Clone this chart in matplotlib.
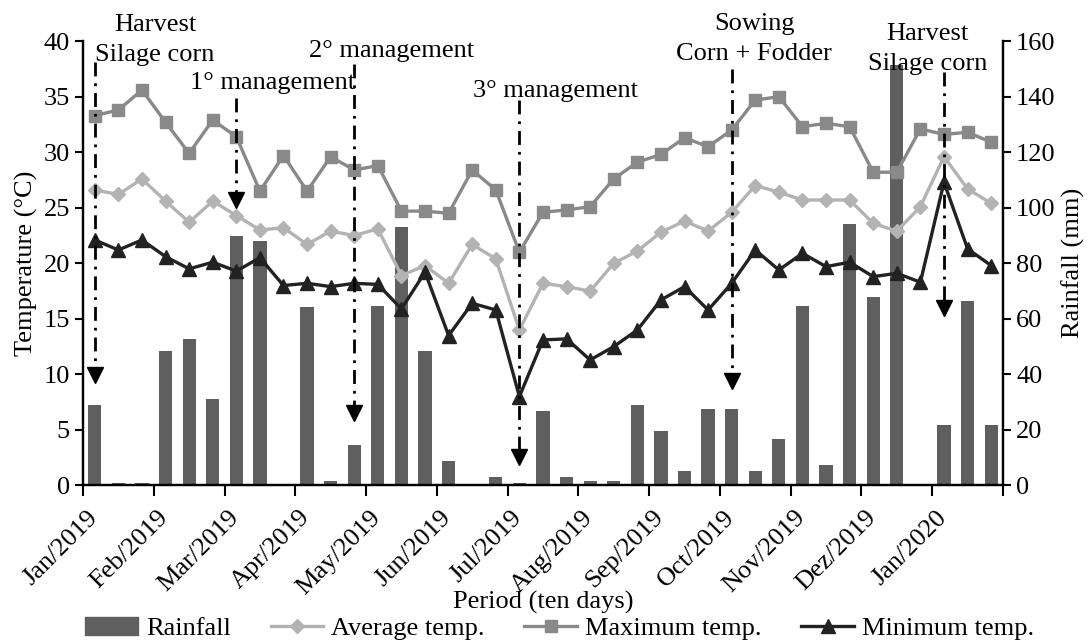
import numpy as np
import matplotlib
matplotlib.use('Agg')
import matplotlib.pyplot as plt
from matplotlib.patches import Patch
from matplotlib.lines import Line2D
from matplotlib.transforms import ScaledTranslation

plt.rcParams['font.family'] = ['Liberation Serif', 'DejaVu Serif']
plt.rcParams['font.size'] = 19

# ten-day periods, Jan/2019 .. Jan/2020 (3 per month)
months = ['Jan/2019', 'Feb/2019', 'Mar/2019', 'Apr/2019', 'May/2019', 'Jun/2019',
          'Jul/2019', 'Aug/2019', 'Sep/2019', 'Oct/2019', 'Nov/2019', 'Dez/2019', 'Jan/2020']

rainfall = [28.8, 0.9, 0.9, 48.3, 52.7, 31.1, 90.0, 88.0, 0.0, 64.2,
            1.5, 14.6, 64.8, 93.0, 48.3, 8.8, 0.0, 2.9, 0.9, 26.7,
            2.9, 1.5, 1.5, 28.8, 19.5, 5.2, 27.4, 27.4, 5.2, 16.6,
            64.8, 7.4, 94.3, 67.8, 151.3, 0.0, 21.7, 66.4, 21.7]

t_avg = [26.6, 26.2, 27.6, 25.6, 23.7, 25.6, 24.3, 23.0, 23.2, 21.7,
         22.9, 22.5, 23.1, 18.9, 19.8, 18.2, 21.7, 20.4, 14.0, 18.2,
         17.9, 17.5, 20.0, 21.1, 22.8, 23.8, 22.9, 24.6, 27.0, 26.4,
         25.7, 25.7, 25.7, 23.6, 22.9, 25.1, 29.6, 26.7, 25.4]

t_max = [33.3, 33.8, 35.6, 32.7, 29.9, 32.9, 31.4, 26.5, 29.7, 26.5,
         29.6, 28.4, 28.8, 24.7, 24.7, 24.5, 28.4, 26.6, 21.0, 24.6,
         24.8, 25.1, 27.6, 29.1, 29.8, 31.3, 30.5, 32.0, 34.7, 35.0,
         32.3, 32.6, 32.3, 28.2, 28.2, 32.1, 31.6, 31.8, 30.9]

t_min = [22.1, 21.2, 22.1, 20.6, 19.5, 20.1, 19.3, 20.5, 18.0, 18.2,
         17.9, 18.2, 18.1, 15.9, 19.2, 13.5, 16.4, 15.8, 8.0, 13.1,
         13.2, 11.3, 12.5, 14.0, 16.7, 17.9, 15.8, 18.2, 21.2, 19.4,
         20.9, 19.7, 20.1, 18.8, 19.1, 18.3, 27.3, 21.3, 19.8]

# field operations: period index, label, text position, line top, arrow head
ev_idx = [0, 6, 11, 18, 27, 36]
ev_text = ['Harvest\nSilage corn', '1° management', '2° management',
           '3° management', 'Sowing\nCorn + Fodder', 'Harvest\nSilage corn']
ev_tx = [2.55, 7.55, 12.6, 19.55, 27.95, 35.3]
ev_ty = [40.1, 36.2, 39.1, 35.5, 40.2, 39.3]
ev_top = [38.1, 34.9, 37.9, 34.7, 37.5, 37.2]
ev_head = [9.9, 25.7, 6.5, 2.6, 9.4, 16.0]

c_rain = '#5f5f5f'
c_avg = '#b3b3b3'
c_max = '#898989'
c_min = '#222222'

x = np.arange(len(t_avg))

fig = plt.figure(figsize=(10.89, 6.43), dpi=100)
ax = fig.add_axes([0.0762, 0.245, 0.8448, 0.691])
ax2 = ax.twinx()

ax2.bar(x, rainfall, width=0.56, color=c_rain)
ax2.set_ylim(0, 160)
ax2.set_yticks(np.arange(0, 161, 20))

ax.plot(x, t_avg, color=c_avg, lw=2.4, marker='D', ms=7)
ax.plot(x, t_max, color=c_max, lw=2.4, marker='s', ms=9)
ax.plot(x, t_min, color=c_min, lw=2.4, marker='^', ms=10)

for i, lab, tx, ty, top, head in zip(ev_idx, ev_text, ev_tx, ev_ty, ev_top, ev_head):
    ax.plot([i, i], [top, head], color='black', lw=2, ls=(0, (5, 2.5, 1, 2.5)))
    ax.plot([i], [head], marker='v', color='black', ms=11, ls='none')
    ax.text(tx, ty, lab, ha='center', va='center', linespacing=1.45, clip_on=False)

ax.set_zorder(ax2.get_zorder() + 1)
ax.patch.set_visible(False)

ax.set_xlim(-0.5, len(x) - 0.5)
ax.set_ylim(0, 40)
ax.set_yticks(np.arange(0, 41, 5))
ax.set_xticks(np.arange(-0.5, len(x), 3))
ax.set_xticklabels([])
ax.set_xticks(np.arange(0, len(x), 3), minor=True)
ax.set_xticklabels(months, minor=True, rotation=45, ha='right', va='top',
                   rotation_mode='anchor')
ax.tick_params(axis='x', which='minor', length=0, pad=15)
ax.tick_params(axis='x', which='major', length=8, width=1.5, direction='out')
ax.tick_params(axis='y', length=6, width=1.5, direction='out')
ax2.tick_params(axis='y', length=6, width=1.5, direction='out')

# nudge month labels left so the text ends over the first period
shift = ScaledTranslation(-6 / 72, 0, fig.dpi_scale_trans)
for lbl in ax.get_xticklabels(minor=True):
    lbl.set_transform(lbl.get_transform() + shift)

for a in (ax, ax2):
    a.spines['top'].set_visible(False)
    for s in ('left', 'right', 'bottom'):
        a.spines[s].set_linewidth(1.6)

ax.set_ylabel('Temperature (°C)', labelpad=4)
ax2.set_ylabel('Rainfall (mm)', labelpad=4)
ax.set_xlabel('Period (ten days)')
ax.xaxis.set_label_coords(0.5, -0.238)

handles = [Patch(color=c_rain),
           Line2D([], [], color=c_avg, lw=2.4, marker='D', ms=7),
           Line2D([], [], color=c_max, lw=2.4, marker='s', ms=9),
           Line2D([], [], color=c_min, lw=2.4, marker='^', ms=10)]
labels = ['Rainfall', 'Average temp.', 'Maximum temp.', 'Minimum temp.']
fig.legend(handles, labels, loc='lower center', bbox_to_anchor=(0.514, -0.033),
           ncol=4, frameon=False, handlelength=2.0, columnspacing=1.5,
           handletextpad=0.3)

fig.savefig('out.png', dpi=100)
